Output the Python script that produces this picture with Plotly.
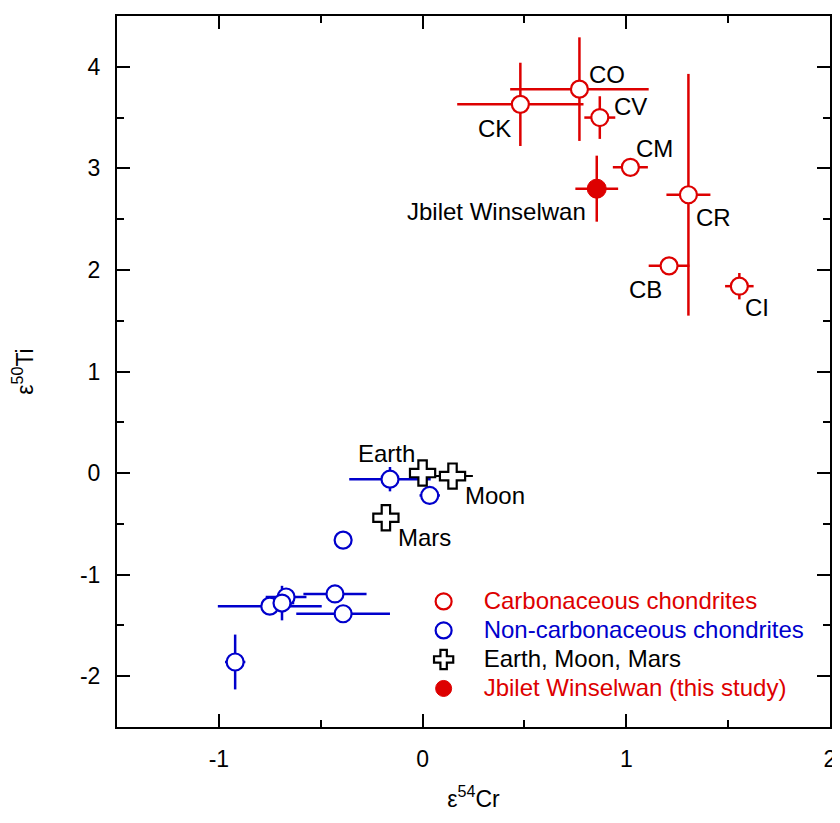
import plotly.graph_objects as go

# Carbonaceous chondrites
cc_names = ["CO", "CK", "CV", "CM", "CR", "CB", "CI"]
cc_cr = [0.77, 0.48, 0.87, 1.02, 1.305, 1.21, 1.555]
cc_cr_err = [0.34, 0.31, 0.076, 0.086, 0.108, 0.10, 0.07]
cc_ti = [3.78, 3.63, 3.50, 3.01, 2.74, 2.04, 1.84]
cc_ti_err = [0.51, 0.41, 0.21, 0.05, 1.19, 0.03, 0.13]

# Jbilet Winselwan
jw_cr = [0.855]
jw_cr_err = [0.105]
jw_ti = [2.80]
jw_ti_err = [0.325]

# Non-carbonaceous chondrites
nc_cr = [-0.16, 0.035, -0.39, -0.43, -0.39, -0.75, -0.67, -0.69, -0.92]
nc_cr_err = [0.20, 0.05, 0.0, 0.155, 0.23, 0.255, 0.10, 0.06, 0.05]
nc_ti = [-0.06, -0.22, -0.66, -1.19, -1.385, -1.31, -1.22, -1.28, -1.86]
nc_ti_err = [0.12, 0.03, 0.0, 0.0, 0.0, 0.0, 0.0, 0.17, 0.27]

# Earth, Moon, Mars
pl_names = ["Earth", "Moon", "Mars"]
pl_cr = [0.0, 0.147, -0.18]
pl_cr_err = [0.0, 0.10, 0.0]
pl_ti = [0.0, -0.03, -0.44]

# Tick labels
x_tickvals = [-1, 0, 1, 2]
x_ticktext = ["-1", "0", "1", "2"]
y_tickvals = [-2, -1, 0, 1, 2, 3, 4]
y_ticktext = ["-2", "-1", "0", "1", "2", "3", "4"]

RED = "#dd0000"
BLUE = "#0000cc"
FONT = "Liberation Sans, Arial, sans-serif"


def leg(text, color):
    return "<span style='color:%s;font-size:24px'>%s</span>" % (color, text)


fig = go.Figure()

fig.add_trace(go.Scatter(
    x=nc_cr, y=nc_ti, mode="markers",
    name=leg("Non-carbonaceous chondrites", BLUE),
    error_x=dict(type="data", array=nc_cr_err, color=BLUE, thickness=2.5, width=0),
    error_y=dict(type="data", array=nc_ti_err, color=BLUE, thickness=2.5, width=0),
    marker=dict(symbol="circle", size=17, color="white", line=dict(color=BLUE, width=2.2)),
    legendrank=2,
))

fig.add_trace(go.Scatter(
    x=pl_cr, y=pl_ti, mode="markers",
    name=leg("Earth, Moon, Mars", "black"),
    error_x=dict(type="data", array=pl_cr_err, color="black", thickness=2, width=0),
    marker=dict(symbol="cross", size=21, color="white", line=dict(color="black", width=2.2)),
    legendrank=3,
))

fig.add_trace(go.Scatter(
    x=cc_cr, y=cc_ti, mode="markers",
    name=leg("Carbonaceous chondrites", RED),
    error_x=dict(type="data", array=cc_cr_err, color=RED, thickness=2.5, width=0),
    error_y=dict(type="data", array=cc_ti_err, color=RED, thickness=2.5, width=0),
    marker=dict(symbol="circle", size=17, color="white", line=dict(color=RED, width=2.2)),
    legendrank=1,
))

fig.add_trace(go.Scatter(
    x=jw_cr, y=jw_ti, mode="markers",
    name=leg("Jbilet Winselwan (this study)", RED),
    error_x=dict(type="data", array=jw_cr_err, color=RED, thickness=2.5, width=0),
    error_y=dict(type="data", array=jw_ti_err, color=RED, thickness=2.5, width=0),
    marker=dict(symbol="circle", size=19, color=RED, line=dict(color=RED, width=1)),
    legendrank=4,
))

# label placement (anchor, pixel shifts)
label_style = {
    "CO": ("left", 8, 15),
    "CK": ("right", -7, -24),
    "CV": ("left", 12, 11),
    "CM": ("left", 4, 19),
    "CR": ("left", 6, -23),
    "CB": ("right", -5, -24),
    "CI": ("left", 4, -21),
    "Earth": ("right", -6, 20),
    "Moon": ("left", 10, -19),
    "Mars": ("left", 10, -20),
    "Jbilet Winselwan": ("right", -9, -23),
}
LABEL_FONT = dict(size=24, color="black", family=FONT)

for n, xv, yv in zip(cc_names, cc_cr, cc_ti):
    a, dx, dy = label_style[n]
    fig.add_annotation(x=xv, y=yv, text=n, showarrow=False, xanchor=a, yanchor="middle",
                       xshift=dx, yshift=dy, font=LABEL_FONT)
for n, xv, yv in zip(pl_names, pl_cr, pl_ti):
    a, dx, dy = label_style[n]
    fig.add_annotation(x=xv, y=yv, text=n, showarrow=False, xanchor=a, yanchor="middle",
                       xshift=dx, yshift=dy, font=LABEL_FONT)
a, dx, dy = label_style["Jbilet Winselwan"]
fig.add_annotation(x=jw_cr[0], y=jw_ti[0], text="Jbilet Winselwan", showarrow=False, xanchor=a,
                   yanchor="middle", xshift=dx, yshift=dy, font=LABEL_FONT)

axis_common = dict(
    showline=True, linecolor="black", linewidth=2, mirror="ticks",
    ticks="inside", ticklen=13, tickwidth=2, tickcolor="black",
    showgrid=False, zeroline=False,
    tickfont=dict(size=23, color="black", family=FONT),
    ticklabelstandoff=10,
    minor=dict(ticks="inside", ticklen=7, tickwidth=2, tickcolor="black", dtick=0.5, showgrid=False),
)

fig.update_xaxes(range=[-1.5, 2], tickmode="array", tickvals=x_tickvals, ticktext=x_ticktext,
                 title=dict(text="ε<sup>54</sup>Cr", font=dict(size=23, color="black", family=FONT), standoff=20),
                 **axis_common)
fig.update_yaxes(range=[-2.5, 4.5], tickmode="array", tickvals=y_tickvals, ticktext=y_ticktext,
                 title=dict(text="ε<sup>50</sup>Ti", font=dict(size=23, color="black", family=FONT), standoff=40),
                 **axis_common)
fig.update_xaxes(minor=dict(tick0=0))
fig.update_yaxes(minor=dict(tick0=0))

fig.update_layout(
    width=834, height=815,
    margin=dict(l=109, r=7, t=6, b=96),
    plot_bgcolor="white", paper_bgcolor="white",
    font=dict(family=FONT, size=20, color="black"),
    legend=dict(x=0.402, y=0.204, xanchor="left", yanchor="top",
                bgcolor="rgba(0,0,0,0)", traceorder="normal",
                font=dict(size=20, family=FONT, color="black"),
                itemsizing="trace", itemwidth=70),
)

fig.write_html("out.html")
